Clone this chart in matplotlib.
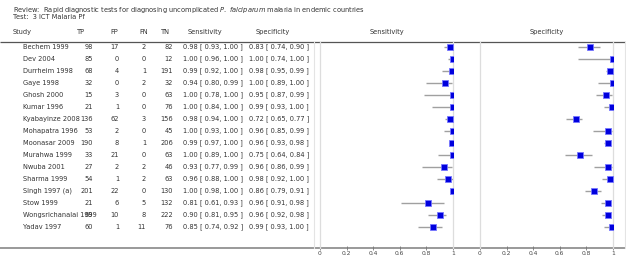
import matplotlib
matplotlib.use("Agg")
import matplotlib.pyplot as plt

studies = ["Bechem 1999", "Dev 2004", "Durrheim 1998", "Gaye 1998", "Ghosh 2000",
           "Kumar 1996", "Kyabayinze 2008", "Mohapatra 1996", "Moonasar 2009",
           "Murahwa 1999", "Nwuba 2001", "Sharma 1999", "Singh 1997 (a)", "Stow 1999",
           "Wongsrichanalai 1999", "Yadav 1997"]
tp = [98, 85, 68, 32, 15, 21, 136, 53, 190, 33, 27, 54, 201, 21, 69, 60]
fp = [17, 0, 4, 0, 3, 1, 62, 2, 8, 21, 2, 1, 22, 6, 10, 1]
fn = [2, 0, 1, 2, 0, 0, 3, 0, 1, 0, 2, 2, 0, 5, 8, 11]
tn = [82, 12, 191, 32, 63, 76, 156, 45, 206, 63, 46, 63, 130, 132, 222, 76]
sens = [0.98, 1.00, 0.99, 0.94, 1.00, 1.00, 0.98, 1.00, 0.99, 1.00, 0.93, 0.96, 1.00, 0.81, 0.90, 0.85]
sens_lo = [0.93, 0.96, 0.92, 0.80, 0.78, 0.84, 0.94, 0.93, 0.97, 0.89, 0.77, 0.88, 0.98, 0.61, 0.81, 0.74]
sens_hi = [1.00, 1.00, 1.00, 0.99, 1.00, 1.00, 1.00, 1.00, 1.00, 1.00, 0.99, 1.00, 1.00, 0.93, 0.95, 0.92]
spec = [0.83, 1.00, 0.98, 1.00, 0.95, 0.99, 0.72, 0.96, 0.96, 0.75, 0.96, 0.98, 0.86, 0.96, 0.96, 0.99]
spec_lo = [0.74, 0.74, 0.95, 0.89, 0.87, 0.93, 0.65, 0.85, 0.93, 0.64, 0.86, 0.92, 0.79, 0.91, 0.92, 0.93]
spec_hi = [0.90, 1.00, 0.99, 1.00, 0.99, 1.00, 0.77, 0.99, 0.98, 0.84, 0.99, 1.00, 0.91, 0.98, 0.98, 1.00]
xticks = [0, 0.2, 0.4, 0.6, 0.8, 1]
xticklabels = ["0", "0.2", "0.4", "0.6", "0.8", "1"]

W, H = 626, 272
fig = plt.figure(figsize=(W / 100, H / 100), dpi=100)
fig.patch.set_facecolor("white")
plt.rcParams["font.family"] = ["DejaVu Sans"]
FS = 4.8
TC = "#333333"

ov = fig.add_axes([0, 0, 1, 1])
ov.set_xlim(0, W)
ov.set_ylim(H, 0)
ov.axis("off")

ov.text(13, 10, "Review:  Rapid diagnostic tests for diagnosing uncomplicated $\\it{P.\\ falciparum}$ malaria in endemic countries",
        fontsize=FS, color=TC, va="center", ha="left")
ov.text(13, 17, "Test:  3 ICT Malaria Pf", fontsize=FS, color=TC, va="center", ha="left")

hy = 32
ov.text(13, hy, "Study", fontsize=FS, color=TC, va="center", ha="left")
for x, s in [(81, "TP"), (114, "FP"), (144, "FN"), (165, "TN"), (205, "Sensitivity"),
             (273, "Specificity"), (386.5, "Sensitivity"), (546.5, "Specificity")]:
    ov.text(x, hy, s, fontsize=FS, color=TC, va="center", ha="center")

ov.plot([0, W], [42, 42], color="#555555", lw=0.9, solid_capstyle="butt")
ov.plot([0, W], [248, 248], color="#999999", lw=1.4, solid_capstyle="butt")
ov.plot([314, 314], [42, 248], color="#e4e4e4", lw=0.8)
ov.plot([625, 625], [42, 248], color="#e4e4e4", lw=0.8)

row0, dy = 47, 12
for i, name in enumerate(studies):
    y = row0 + dy * i
    ov.text(23, y, name, fontsize=FS, color=TC, va="center", ha="left")
    ov.text(93, y, str(tp[i]), fontsize=FS, color=TC, va="center", ha="right")
    ov.text(119, y, str(fp[i]), fontsize=FS, color=TC, va="center", ha="right")
    ov.text(146, y, str(fn[i]), fontsize=FS, color=TC, va="center", ha="right")
    ov.text(173, y, str(tn[i]), fontsize=FS, color=TC, va="center", ha="right")
    ov.text(183, y, f"{sens[i]:.2f} [ {sens_lo[i]:.2f}, {sens_hi[i]:.2f} ]", fontsize=FS, color=TC, va="center", ha="left")
    ov.text(249, y, f"{spec[i]:.2f} [ {spec_lo[i]:.2f}, {spec_hi[i]:.2f} ]", fontsize=FS, color=TC, va="center", ha="left")

def panel(x0, x1, est, lo, hi):
    ax = fig.add_axes([x0 / W, (H - 248) / H, (x1 - x0) / W, 206 / H])
    ax.set_xlim(0, 1)
    ax.set_ylim((248 - row0) / dy, -(row0 - 42) / dy)
    for sp in ax.spines.values():
        sp.set_visible(False)
    ax.patch.set_alpha(0)
    ax.axvline(0, color="#dddddd", lw=0.9, clip_on=False)
    ax.axvline(1, color="#dddddd", lw=0.9, clip_on=False)
    for i in range(len(est)):
        ax.plot([lo[i], hi[i]], [i, i], color="#a0a0a0", lw=1.0, solid_capstyle="butt")
        ax.plot(est[i], i, marker="s", ms=3.8, mfc="#0000dd", mec="#7777ff", mew=0.6, clip_on=True)
    ax.set_yticks([])
    ax.set_xticks(xticks)
    ax.set_xticklabels(xticklabels)
    ax.tick_params(axis="x", direction="inout", length=2.2, width=0.6, color="#777777",
                   labelsize=4.3, labelcolor="#444444", pad=1.2)
    return ax

panel(320, 453, sens, sens_lo, sens_hi)
panel(480, 613, spec, spec_lo, spec_hi)

fig.savefig("out.png", dpi=100, facecolor="white")
